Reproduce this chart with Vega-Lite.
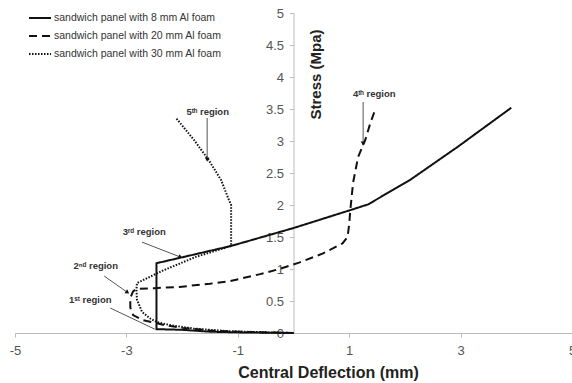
{
  "$schema": "https://vega.github.io/schema/vega-lite/v6.json",
  "width": 557,
  "height": 320,
  "autosize": {"type": "none"},
  "padding": {"left": 15, "top": 13, "right": 0, "bottom": 50},
  "background": "white",
  "config": {"view": {"stroke": null}, "font": "Liberation Sans"},
  "datasets": {
    "curves": [
      {"series": "sandwich panel with 8 mm Al foam", "i": 0, "x": 0, "y": 0},
      {"series": "sandwich panel with 8 mm Al foam", "i": 1, "x": -1, "y": 0.01},
      {"series": "sandwich panel with 8 mm Al foam", "i": 2, "x": -1.5, "y": 0.02},
      {"series": "sandwich panel with 8 mm Al foam", "i": 3, "x": -2, "y": 0.05},
      {"series": "sandwich panel with 8 mm Al foam", "i": 4, "x": -2.46, "y": 0.06},
      {"series": "sandwich panel with 8 mm Al foam", "i": 5, "x": -2.46, "y": 1.09},
      {"series": "sandwich panel with 8 mm Al foam", "i": 6, "x": -1.12, "y": 1.36},
      {"series": "sandwich panel with 8 mm Al foam", "i": 7, "x": 0, "y": 1.64},
      {"series": "sandwich panel with 8 mm Al foam", "i": 8, "x": 1.02, "y": 1.92},
      {"series": "sandwich panel with 8 mm Al foam", "i": 9, "x": 1.34, "y": 2.01},
      {"series": "sandwich panel with 8 mm Al foam", "i": 10, "x": 2.09, "y": 2.39},
      {"series": "sandwich panel with 8 mm Al foam", "i": 11, "x": 2.95, "y": 2.91},
      {"series": "sandwich panel with 8 mm Al foam", "i": 12, "x": 3.91, "y": 3.52},

      {"series": "sandwich panel with 20 mm Al foam", "i": 0, "x": 0, "y": 0},
      {"series": "sandwich panel with 20 mm Al foam", "i": 1, "x": -0.5, "y": 0.01},
      {"series": "sandwich panel with 20 mm Al foam", "i": 2, "x": -1, "y": 0.02},
      {"series": "sandwich panel with 20 mm Al foam", "i": 3, "x": -1.5, "y": 0.04},
      {"series": "sandwich panel with 20 mm Al foam", "i": 4, "x": -2, "y": 0.08},
      {"series": "sandwich panel with 20 mm Al foam", "i": 5, "x": -2.3, "y": 0.12},
      {"series": "sandwich panel with 20 mm Al foam", "i": 6, "x": -2.49, "y": 0.16},
      {"series": "sandwich panel with 20 mm Al foam", "i": 7, "x": -2.7, "y": 0.2},
      {"series": "sandwich panel with 20 mm Al foam", "i": 8, "x": -2.88, "y": 0.28},
      {"series": "sandwich panel with 20 mm Al foam", "i": 9, "x": -2.93, "y": 0.4},
      {"series": "sandwich panel with 20 mm Al foam", "i": 10, "x": -2.93, "y": 0.55},
      {"series": "sandwich panel with 20 mm Al foam", "i": 11, "x": -2.88, "y": 0.65},
      {"series": "sandwich panel with 20 mm Al foam", "i": 12, "x": -2.82, "y": 0.69},
      {"series": "sandwich panel with 20 mm Al foam", "i": 13, "x": -2.5, "y": 0.7},
      {"series": "sandwich panel with 20 mm Al foam", "i": 14, "x": -2.05, "y": 0.72},
      {"series": "sandwich panel with 20 mm Al foam", "i": 15, "x": -1.5, "y": 0.77},
      {"series": "sandwich panel with 20 mm Al foam", "i": 16, "x": -1.14, "y": 0.81},
      {"series": "sandwich panel with 20 mm Al foam", "i": 17, "x": -0.6, "y": 0.92},
      {"series": "sandwich panel with 20 mm Al foam", "i": 18, "x": -0.25, "y": 1.0},
      {"series": "sandwich panel with 20 mm Al foam", "i": 19, "x": 0.1, "y": 1.1},
      {"series": "sandwich panel with 20 mm Al foam", "i": 20, "x": 0.52, "y": 1.24},
      {"series": "sandwich panel with 20 mm Al foam", "i": 21, "x": 0.88, "y": 1.4},
      {"series": "sandwich panel with 20 mm Al foam", "i": 22, "x": 0.97, "y": 1.5},
      {"series": "sandwich panel with 20 mm Al foam", "i": 23, "x": 1.0, "y": 1.7},
      {"series": "sandwich panel with 20 mm Al foam", "i": 24, "x": 1.02, "y": 1.92},
      {"series": "sandwich panel with 20 mm Al foam", "i": 25, "x": 1.07, "y": 2.35},
      {"series": "sandwich panel with 20 mm Al foam", "i": 26, "x": 1.16, "y": 2.75},
      {"series": "sandwich panel with 20 mm Al foam", "i": 27, "x": 1.29, "y": 3.02},
      {"series": "sandwich panel with 20 mm Al foam", "i": 28, "x": 1.38, "y": 3.28},
      {"series": "sandwich panel with 20 mm Al foam", "i": 29, "x": 1.48, "y": 3.52},

      {"series": "sandwich panel with 30 mm Al foam", "i": 0, "x": 0, "y": 0},
      {"series": "sandwich panel with 30 mm Al foam", "i": 1, "x": -0.5, "y": 0.01},
      {"series": "sandwich panel with 30 mm Al foam", "i": 2, "x": -1.2, "y": 0.03},
      {"series": "sandwich panel with 30 mm Al foam", "i": 3, "x": -1.8, "y": 0.07},
      {"series": "sandwich panel with 30 mm Al foam", "i": 4, "x": -2.2, "y": 0.12},
      {"series": "sandwich panel with 30 mm Al foam", "i": 5, "x": -2.45, "y": 0.17},
      {"series": "sandwich panel with 30 mm Al foam", "i": 6, "x": -2.58, "y": 0.23},
      {"series": "sandwich panel with 30 mm Al foam", "i": 7, "x": -2.72, "y": 0.33},
      {"series": "sandwich panel with 30 mm Al foam", "i": 8, "x": -2.81, "y": 0.52},
      {"series": "sandwich panel with 30 mm Al foam", "i": 9, "x": -2.82, "y": 0.68},
      {"series": "sandwich panel with 30 mm Al foam", "i": 10, "x": -2.81, "y": 0.78},
      {"series": "sandwich panel with 30 mm Al foam", "i": 11, "x": -2.36, "y": 0.97},
      {"series": "sandwich panel with 30 mm Al foam", "i": 12, "x": -1.75, "y": 1.19},
      {"series": "sandwich panel with 30 mm Al foam", "i": 13, "x": -1.12, "y": 1.36},
      {"series": "sandwich panel with 30 mm Al foam", "i": 14, "x": -1.12, "y": 2.0},
      {"series": "sandwich panel with 30 mm Al foam", "i": 15, "x": -1.16, "y": 2.08},
      {"series": "sandwich panel with 30 mm Al foam", "i": 16, "x": -1.3, "y": 2.39},
      {"series": "sandwich panel with 30 mm Al foam", "i": 17, "x": -1.52, "y": 2.7},
      {"series": "sandwich panel with 30 mm Al foam", "i": 18, "x": -1.79, "y": 3.02},
      {"series": "sandwich panel with 30 mm Al foam", "i": 19, "x": -2.11, "y": 3.36}
    ],
    "labels": [
      {"t": "1ˢᵗ region", "x": -3.65, "y": 0.52},
      {"t": "2ⁿᵈ region", "x": -3.55, "y": 1.05},
      {"t": "3ʳᵈ region", "x": -2.68, "y": 1.58},
      {"t": "4ᵗʰ region", "x": 1.45, "y": 3.74},
      {"t": "5ᵗʰ region", "x": -1.54, "y": 3.46}
    ],
    "arrows": [
      {"name": "1st", "x": -3.29, "y": 0.39, "x2": -2.49, "y2": 0.06},
      {"name": "2nd", "x": -3.4, "y": 0.89, "x2": -2.99, "y2": 0.64},
      {"name": "3rd", "x": -2.72, "y": 1.42, "x2": -2.04, "y2": 1.19},
      {"name": "4th", "x": 1.25, "y": 3.61, "x2": 1.25, "y2": 2.97},
      {"name": "5th", "x": -1.55, "y": 3.36, "x2": -1.55, "y2": 2.72}
    ],
    "heads": [
      {"name": "2nd", "x": -2.99, "y": 0.64},
      {"name": "3rd", "x": -2.04, "y": 1.19},
      {"name": "4th", "x": 1.25, "y": 2.97},
      {"name": "5th", "x": -1.55, "y": 2.72}
    ]
  },
  "encoding": {
    "x": {
      "type": "quantitative",
      "scale": {"domain": [-5, 5], "nice": false, "zero": false},
      "axis": {
        "values": [-5, -3, -1, 1, 3, 5], "grid": false, "labelFlush": false, "labelOverlap": false,
        "labelExpr": "'' + datum.value",
        "labelFontSize": 13, "labelColor": "#555", "labelPadding": 7,
        "tickSize": 4, "tickColor": "#bbb", "domainColor": "#bbb",
        "title": "Central Deflection (mm)", "titleFontSize": 16, "titleFontWeight": "bold",
        "titleColor": "#222", "titleX": 313, "titleY": 39, "titleAlign": "center", "titleBaseline": "middle"
      }
    },
    "y": {
      "type": "quantitative",
      "scale": {"domain": [0, 5], "nice": false},
      "axis": {
        "offset": -278.5, "values": [0, 0.5, 1, 1.5, 2, 2.5, 3, 3.5, 4, 4.5, 5],
        "labelExpr": "'' + datum.value", "labelOverlap": false,
        "grid": false, "labelFontSize": 13, "labelColor": "#555", "labelPadding": 6,
        "tickSize": 4, "tickColor": "#bbb", "domainColor": "#bbb",
        "title": "Stress (Mpa)", "titleFontSize": 15, "titleFontWeight": "bold", "titleColor": "#222",
        "titleX": 22, "titleY": 61, "titleAngle": 270, "titleAlign": "center", "titleBaseline": "middle"
      }
    }
  },
  "layer": [
    {
      "data": {"name": "curves"},
      "mark": {"type": "line", "color": "#111", "strokeWidth": 2},
      "encoding": {
        "x": {"field": "x"},
        "y": {"field": "y"},
        "order": {"field": "i", "type": "quantitative"},
        "strokeDash": {
          "field": "series", "type": "nominal",
          "scale": {
            "domain": ["sandwich panel with 8 mm Al foam", "sandwich panel with 20 mm Al foam", "sandwich panel with 30 mm Al foam"],
            "range": [[1, 0], [8, 5], [1.5, 1.5]]
          },
          "legend": {
            "orient": "none", "legendX": 13, "legendY": -7, "title": null, "padding": 0,
            "symbolType": "stroke", "symbolSize": 484, "symbolStrokeColor": "#111", "symbolStrokeWidth": 2,
            "labelFontSize": 10.5, "labelColor": "#333", "labelOffset": 2, "labelLimit": 400, "rowPadding": -5
          }
        }
      }
    },
    {
      "data": {"name": "arrows"},
      "mark": {"type": "rule", "color": "#555", "strokeWidth": 1},
      "encoding": {
        "x": {"field": "x"},
        "y": {"field": "y"},
        "x2": {"field": "x2"},
        "y2": {"field": "y2"}
      }
    },
    {
      "data": {"name": "heads"},
      "transform": [{"filter": "datum.name === '4th' || datum.name === '5th'"}],
      "mark": {"type": "point", "shape": "triangle", "filled": true, "color": "#111", "size": 22, "angle": 180, "opacity": 1},
      "encoding": {
        "x": {"field": "x"},
        "y": {"field": "y"}
      }
    },
    {
      "data": {"name": "heads"},
      "transform": [{"filter": "datum.name === '2nd'"}],
      "mark": {"type": "point", "shape": "triangle", "filled": true, "color": "#111", "size": 22, "angle": 125, "opacity": 1},
      "encoding": {
        "x": {"field": "x"},
        "y": {"field": "y"}
      }
    },
    {
      "data": {"name": "heads"},
      "transform": [{"filter": "datum.name === '3rd'"}],
      "mark": {"type": "point", "shape": "triangle", "filled": true, "color": "#111", "size": 22, "angle": 112, "opacity": 1},
      "encoding": {
        "x": {"field": "x"},
        "y": {"field": "y"}
      }
    },
    {
      "data": {"name": "labels"},
      "mark": {"type": "text", "fontSize": 9.5, "fontWeight": "bold", "color": "#333", "align": "center", "baseline": "middle"},
      "encoding": {
        "x": {"field": "x"},
        "y": {"field": "y"},
        "text": {"field": "t"}
      }
    }
  ]
}
